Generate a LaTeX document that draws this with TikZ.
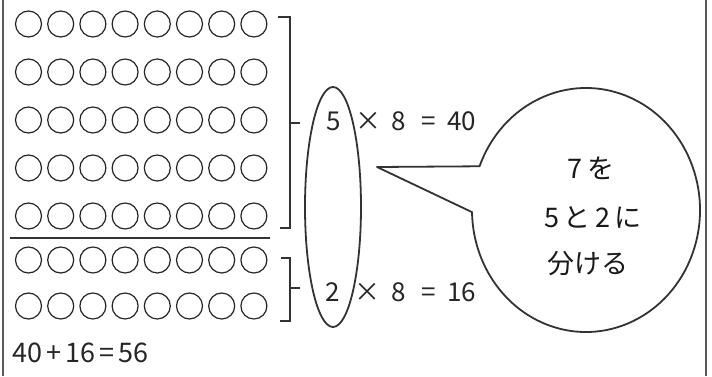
\documentclass[tikz,border=0pt]{standalone}
\usepackage{fontspec}
\usetikzlibrary{shapes.geometric}
\newfontfamily\jp{Noto Sans CJK JP}
\begin{document}
\begin{tikzpicture}[x=1pt,y=1pt,
  dot/.style={circle,draw=black!85,line width=1.2pt,minimum size=26pt,inner sep=0pt},
  brk/.style={line width=1.6pt,draw=black!80},
  frm/.style={line width=1.8pt,draw=black!65},
  eq/.style={font=\jp\fontsize{26}{28}\selectfont,inner sep=0pt,anchor=base west,text=black!85},
  bub/.style={font=\jp\fontsize{27}{30}\selectfont,inner sep=0pt,anchor=base,text=black!90}]
\useasboundingbox (0,0) rectangle (712,376);
\fill[white] (0,0) rectangle (712,376);
\draw[frm] (3,0) -- (3,376);
\draw[frm] (706,0) -- (706,376);
\foreach \r/\y in {1/352,2/304,3/256,4/208,5/160,6/116,7/70}{
  \foreach \i in {0,...,7}{
    \node[dot] (c\r-\i) at ({28.5+32.2*\i},\y) {};
  }}
\coordinate (hl) at (10,138);
\coordinate (hr) at (270,138);
\draw[line width=2.2pt,draw=black!80] (hl) -- (hr);
% bracket 1
\coordinate (b1a) at (278,359);
\coordinate (b1b) at (290,359);
\coordinate (b1c) at (290,148);
\coordinate (b1d) at (280,148);
\coordinate (b1m) at (290,253);
\coordinate (b1t) at (300,253);
\draw[brk] (b1a) -- (b1b) -- (b1c) -- (b1d);
\draw[brk] (b1m) -- (b1t);
% bracket 2
\coordinate (b2a) at (281,118);
\coordinate (b2b) at (290,118);
\coordinate (b2c) at (290,55);
\coordinate (b2d) at (280,55);
\coordinate (b2m) at (290,88);
\coordinate (b2t) at (300,88);
\draw[brk] (b2a) -- (b2b) -- (b2c) -- (b2d);
\draw[brk] (b2m) -- (b2t);
% equations
\node[eq] (e1a) at (326,246) {5};
\node[eq] (e1b) at (355,246) {×};
\node[eq] (e1c) at (391,246) {8};
\node[eq] (e1d) at (421,246) {=};
\node[eq] (e1e) at (447,246) {40};
\node[eq] (e2a) at (325,75) {2};
\node[eq] (e2b) at (354,75) {×};
\node[eq] (e2c) at (391,75) {8};
\node[eq] (e2d) at (421,75) {=};
\node[eq] (e2e) at (447,75) {16};
\node[eq,font=\jp\fontsize{27}{28}\selectfont] (s1) at (12,14) {40\kern4pt+\kern4pt16\kern4pt=\kern4pt56};
% oval
\node[ellipse,draw=black!80,line width=1.8pt,minimum width=56pt,minimum height=240pt,inner sep=0pt] (ov) at (333,169) {};
% speech bubble
\coordinate (tip) at (377,209);
\coordinate (j1) at ({586+114*cos(159)},{166+122*sin(159)});
\draw[line width=1.8pt,draw=black!80,line join=round] (tip) -- (j1)
  arc[start angle=159,end angle=-179,x radius=114,y radius=122] -- cycle;
\node[bub] (t1) at (591,198) {7\,を};
\node[bub] (t2) at (593,149) {5\,と\,2\,に};
\node[bub] (t3) at (588,103) {分ける};
\end{tikzpicture}
\end{document}
